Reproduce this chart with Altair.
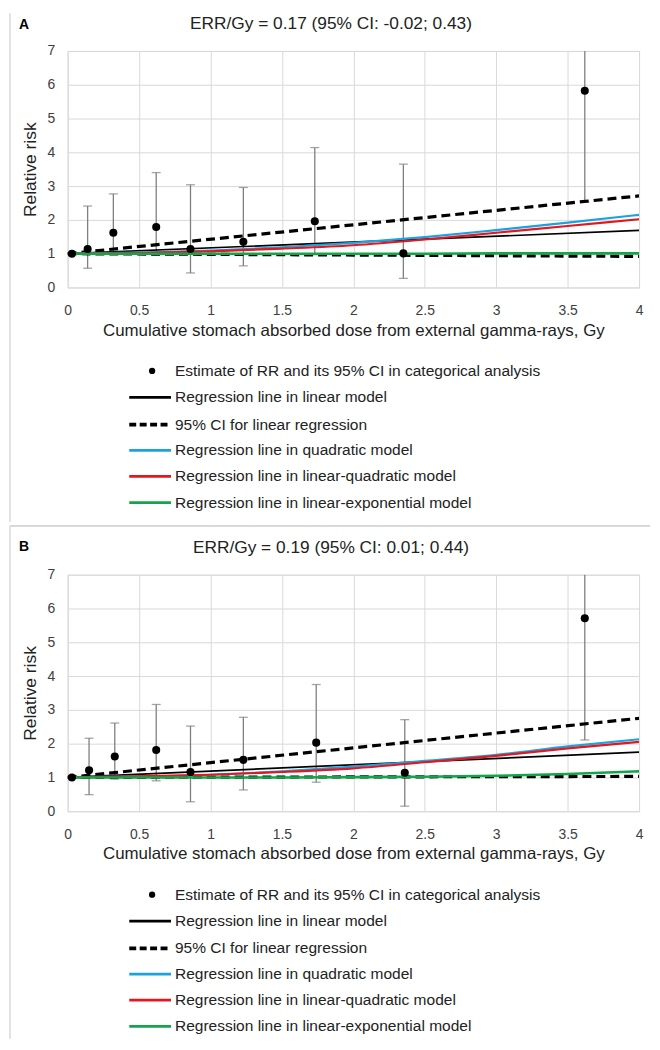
import altair as alt
import pandas as pd

FONT = "Liberation Sans"
W, H = 575, 238

# ---------------- shared texts / ticks ----------------
x_ticks = [0, 0.5, 1, 1.5, 2, 2.5, 3, 3.5, 4]
y_ticks = [0, 1, 2, 3, 4, 5, 6, 7]
x_title = "Cumulative stomach absorbed dose from external gamma-rays, Gy"
y_title = "Relative risk"
legend_labels = [
    "Estimate of RR and its 95% CI in categorical analysis",
    "Regression line in linear model",
    "95% CI for linear regression",
    "Regression line in quadratic model",
    "Regression line in linear-quadratic model",
    "Regression line in linear-exponential model",
]
legend_colors = ["#000000", "#000000", "#000000", "#1aa3e0", "#e5161d", "#12a64a"]

fit_x = [0, 0.5, 1, 1.5, 2, 2.5, 3, 3.5, 4]
end_x = [0, 4]

# ---------------- panel A ----------------
title_a = "ERR/Gy = 0.17 (95% CI: -0.02; 0.43)"
dose_a = [0.03, 0.14, 0.32, 0.62, 0.86, 1.23, 1.73, 2.35, 3.62]
rr_a = [1.00, 1.14, 1.62, 1.79, 1.14, 1.35, 1.96, 1.01, 5.82]
lo_a = [None, 0.57, 1.03, 0.97, 0.43, 0.64, 0.97, 0.27, 2.52]
hi_a = [None, 2.41, 2.77, 3.40, 3.04, 2.96, 4.14, 3.65, 7.60]
lin_a = [1.00, 1.69]
ci_hi_a = [1.00, 2.71]
ci_lo_a = [1.00, 0.92]
quad_a = [1.00, 1.03, 1.09, 1.19, 1.32, 1.49, 1.70, 1.92, 2.15]
lq_a = [1.00, 1.02, 1.07, 1.15, 1.25, 1.42, 1.62, 1.82, 2.02]
linexp_a = [1.00, 1.00, 1.00, 1.00, 1.00, 1.00, 1.01, 1.01, 1.01]

# ---------------- panel B ----------------
title_b = "ERR/Gy = 0.19 (95% CI: 0.01; 0.44)"
dose_b = [0.03, 0.15, 0.33, 0.62, 0.86, 1.23, 1.74, 2.36, 3.62]
rr_b = [1.00, 1.21, 1.62, 1.81, 1.16, 1.52, 2.03, 1.14, 5.71]
lo_b = [None, 0.49, 0.95, 0.90, 0.28, 0.63, 0.86, 0.15, 2.11]
hi_b = [None, 2.16, 2.61, 3.16, 2.52, 2.78, 3.75, 2.71, 7.60]
lin_b = [1.00, 1.75]
ci_hi_b = [1.00, 2.75]
ci_lo_b = [1.00, 1.03]
quad_b = [1.00, 1.03, 1.08, 1.18, 1.32, 1.49, 1.67, 1.92, 2.13]
lq_b = [1.00, 1.03, 1.08, 1.16, 1.27, 1.45, 1.64, 1.86, 2.05]
linexp_b = [1.00, 1.00, 1.00, 1.00, 1.01, 1.02, 1.05, 1.10, 1.18]

GRAY = "#d9d9d9"
BAR = "#7f7f7f"

xscale = alt.Scale(domain=[0, 4], nice=False, zero=False)
yscale = alt.Scale(domain=[0, 7], nice=False)
xaxis = alt.Axis(values=x_ticks, format="~g", labelPadding=16, titlePadding=5,
                 grid=True, labelFlush=False, titleFontSize=17)
yaxis = alt.Axis(values=y_ticks, format="d", labelPadding=13, titlePadding=8,
                 grid=True, titleFontSize=17.5)


def X(field):
    return alt.X(field, type="quantitative", scale=xscale, axis=xaxis, title=x_title)


def Y(field):
    return alt.Y(field, type="quantitative", scale=yscale, axis=yaxis, title=y_title)


legend_rows = [322, 348.5, 376, 402, 428, 454.5]
one = pd.DataFrame({"k": [0]})


def panel(letter, letter_y, title, dose, rr, lo, hi, lin, ci_hi, ci_lo, quad, lq,
          linexp, top_rule, left_y1, left_y2):
    pts = pd.DataFrame({"dose": dose, "rr": rr, "lo": lo, "hi": hi})
    layers = []
    bars = alt.Chart(pts).transform_filter("isValid(datum.lo)")
    layers.append(bars.mark_rule(color=BAR, strokeWidth=1.3, clip=True)
                  .encode(x=X("dose"), y=Y("lo"), y2="hi"))
    layers.append(bars.transform_filter("datum.hi <= 7")
                  .mark_tick(orient="horizontal", size=9, thickness=1.3, color=BAR)
                  .encode(x=X("dose"), y=Y("hi")))
    layers.append(bars.mark_tick(orient="horizontal", size=9, thickness=1.3, color=BAR)
                  .encode(x=X("dose"), y=Y("lo")))

    def line(xs, ys, color, width, dash=None, interp="linear"):
        df = pd.DataFrame({"dose": xs, "rr": ys})
        kw = dict(color=color, strokeWidth=width, clip=True, interpolate=interp)
        if dash:
            kw["strokeDash"] = dash
        return alt.Chart(df).mark_line(**kw).encode(x=X("dose"), y=Y("rr"))

    layers.append(line(end_x, ci_hi, "#000000", 3.2, [9, 5]))
    layers.append(line(end_x, ci_lo, "#000000", 3.2, [9, 5]))
    layers.append(line(end_x, lin, "#000000", 1.7))
    layers.append(line(fit_x, quad, legend_colors[3], 2.2, interp="monotone"))
    layers.append(line(fit_x, lq, legend_colors[4], 2.2, interp="monotone"))
    layers.append(line(fit_x, linexp, legend_colors[5], 2.6, interp="monotone"))

    layers.append(alt.Chart(pts).mark_circle(size=66, color="#000000", opacity=1)
                  .encode(x=X("dose"), y=Y("rr")))

    # title and panel letter
    layers.append(alt.Chart(pd.DataFrame({"t": [title]}))
                  .mark_text(font=FONT, fontSize=17.4, color="#222222", baseline="middle",
                             align="center")
                  .encode(x=alt.value(265), y=alt.value(-27), text="t:N"))
    layers.append(alt.Chart(pd.DataFrame({"t": [letter]}))
                  .mark_text(font=FONT, fontSize=14, fontWeight="bold", color="#000000",
                             baseline="middle", align="center")
                  .encode(x=alt.value(-44), y=alt.value(letter_y), text="t:N"))

    # legend
    for i, lab in enumerate(legend_labels):
        ry = legend_rows[i]
        if i == 0:
            layers.append(alt.Chart(one).mark_circle(size=40, color="#000000", opacity=1)
                          .encode(x=alt.value(85), y=alt.value(ry)))
        else:
            kw = dict(color=legend_colors[i], strokeWidth=2.8)
            if i == 2:
                kw = dict(color="#000000", strokeWidth=3.6, strokeDash=[7, 3.5])
            layers.append(alt.Chart(one).mark_rule(**kw)
                          .encode(x=alt.value(62), x2=alt.value(104), y=alt.value(ry)))
        layers.append(alt.Chart(pd.DataFrame({"t": [lab]}))
                      .mark_text(font=FONT, fontSize=15.6, color="#222222",
                                 baseline="middle", align="left")
                      .encode(x=alt.value(108), y=alt.value(ry), text="t:N"))

    # panel frame lines
    layers.append(alt.Chart(one).mark_rule(color=GRAY, strokeWidth=1.5)
                  .encode(x=alt.value(-58), y=alt.value(left_y1), y2=alt.value(left_y2)))
    if top_rule is not None:
        layers.append(alt.Chart(one).mark_rule(color=GRAY, strokeWidth=2)
                      .encode(x=alt.value(-58), x2=alt.value(586), y=alt.value(top_rule)))

    return alt.layer(*layers).properties(width=W, height=H)


pa = panel("A", -25.7, title_a, dose_a, rr_a, lo_a, hi_a, lin_a, ci_hi_a, ci_lo_a,
           quad_a, lq_a, linexp_a, None, -38, 474)
pb = panel("B", -28.3, title_b, dose_b, rr_b, lo_b, hi_b, lin_b, ci_hi_b, ci_lo_b,
           quad_b, lq_b, linexp_b, -49, -49, 467)

chart = (
    alt.vconcat(pa, pb, spacing=0)
    .properties(padding=0)
    .configure_view(stroke=GRAY, strokeWidth=1)
    .configure_axis(gridColor=GRAY, gridWidth=1, domain=False, ticks=False, tickSize=0,
                    labelFont=FONT, labelFontSize=14, labelColor="#404040",
                    titleFont=FONT, titleFontSize=16, titleFontWeight="normal",
                    titleColor="#222222")
)

chart.save("out.html", embed_options={"renderer": "svg", "actions": False})
